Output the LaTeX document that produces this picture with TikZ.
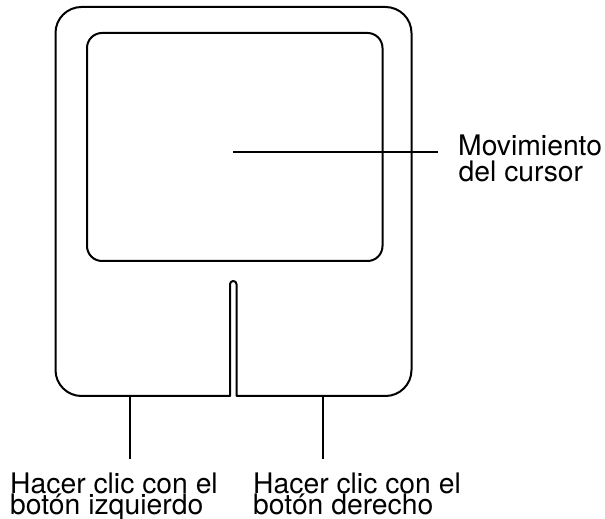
\documentclass[tikz,border=0pt]{standalone}
\usepackage{fontspec}
\setmainfont{TeX Gyre Heros}
\begin{document}
\begin{tikzpicture}[x=1pt,y=1pt,
  pad/.style={line width=2pt, line join=round},
  leader/.style={line width=1.5pt},
  lbl/.style={inner sep=0pt, anchor=base west, font=\fontsize{28.3}{30}\selectfont}]
\useasboundingbox (0,0) rectangle (605,519);
% outer touchpad outline with slit
\draw[pad] (230,123) -- (81.5,123) arc[start angle=270,end angle=180,radius=26]
  -- (55.5,486) arc[start angle=180,end angle=90,radius=26]
  -- (385.5,512) arc[start angle=90,end angle=0,radius=26]
  -- (411.5,149) arc[start angle=0,end angle=-90,radius=26]
  -- (236.5,123) -- (236.5,234.75) arc[start angle=0,end angle=180,radius=3.25]
  -- cycle;
% inner surface
\draw[pad, rounded corners=15] (87,258) rectangle (382.5,486);
% leader ends
\coordinate (c1) at (233,367);
\coordinate (c2) at (438,367);
\coordinate (l1) at (130,123);
\coordinate (l2) at (130,60);
\coordinate (r1) at (323,123);
\coordinate (r2) at (323,60);
\draw[leader] (c1) -- (c2);
\draw[leader] (l1) -- (l2);
\draw[leader] (r1) -- (r2);
% labels
\node[lbl] (m1) at (458,363) {Movimiento};
\node[lbl] (m2) at (458.5,337) {del cursor};
\node[lbl] (a1) at (10,25) {Hacer clic con el};
\node[lbl] (a2) at (10,4.5) {botón izquierdo};
\node[lbl] (b1) at (253,25) {Hacer clic con el};
\node[lbl] (b2) at (253,4.5) {botón derecho};
\end{tikzpicture}
\end{document}
